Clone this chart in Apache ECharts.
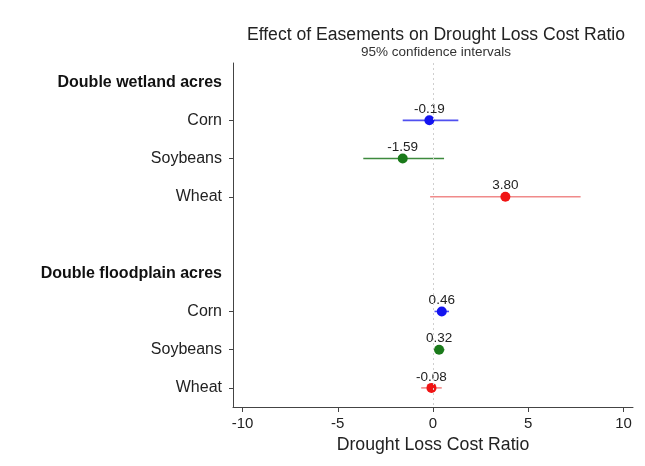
<!DOCTYPE html>
<html><head><meta charset="utf-8">
<script src="https://cdn.jsdelivr.net/npm/echarts@6/dist/echarts.min.js"></script>
<style>html,body{margin:0;padding:0;background:#fff}#c{width:645px;height:466px}</style>
</head><body><div id="c"></div>
<script>
const categories = ["Double wetland acres","Corn","Soybeans","Wheat","","Double floodplain acres","Corn","Soybeans","Wheat"];
const headerRows = [0, 5];
const rowIndex = [1, 2, 3, 6, 7, 8];
const estimates = [-0.19, -1.59, 3.80, 0.46, 0.32, -0.08];
const lower = [-1.59, -3.66, -0.15, 0.08, 0.05, -0.62];
const upper = [1.33, 0.58, 7.75, 0.84, 0.60, 0.46];
const xTicks = [-10, -5, 0, 5, 10];
const pointColors = ["#1414f0","#1a7a1a","#f01414","#1414f0","#1a7a1a","#f01414"];
const ciColors = ["#5050f0","#3d8a3d","#f08a8a","#5050f0","#3d8a3d","#f08a8a"];

const font = "Liberation Sans, Arial, sans-serif";
const chart = echarts.init(document.getElementById('c'));
chart.setOption({
  animation: false,
  backgroundColor: '#fff',
  title: {
    text: 'Effect of Easements on Drought Loss Cost Ratio',
    subtext: '95% confidence intervals',
    left: 431, top: 21, textAlign: 'center', itemGap: 1,
    textStyle: {fontSize: 17.6, fontWeight: 'normal', color: '#222', fontFamily: font},
    subtextStyle: {fontSize: 13.5, color: '#333', fontFamily: font}
  },
  grid: {left: 233, right: 12, top: 63, bottom: 59},
  xAxis: {
    type: 'value', min: -10.5, max: 10.5,
    splitLine: {show: false},
    axisLine: {show: true, onZero: false, lineStyle: {color: '#444', width: 1}},
    axisTick: {show: true, length: 5, customValues: xTicks, lineStyle: {color: '#444'}},
    axisLabel: {customValues: xTicks, fontSize: 15, color: '#222', fontFamily: font, margin: 9},
    name: 'Drought Loss Cost Ratio', nameLocation: 'middle', nameGap: 22,
    nameTextStyle: {fontSize: 17.7, color: '#222', fontFamily: font}
  },
  yAxis: {
    type: 'category', inverse: true, data: categories,
    axisLine: {show: true, onZero: false, lineStyle: {color: '#444', width: 1}},
    axisTick: {show: true, length: 4, alignWithLabel: true,
      interval: (i) => headerRows.indexOf(i) < 0 && categories[i] !== '',
      lineStyle: {color: '#444'}},
    axisLabel: {
      interval: 0, margin: 11, fontSize: 16, color: '#222', fontFamily: font,
      formatter: (v, i) => headerRows.indexOf(i) >= 0 ? '{b|' + v + '}' : v,
      rich: {b: {fontWeight: 'bold', fontSize: 16, color: '#111', fontFamily: font}}
    },
    splitLine: {show: false}
  },
  series: [
    {
      type: 'scatter',
      data: [],
      silent: true,
      markLine: {
        silent: true, symbol: 'none', label: {show: false},
        lineStyle: {type: [2, 3], color: '#cfcfcf', width: 1, opacity: 1},
        emphasis: {disabled: true},
        data: [{xAxis: 0}]
      },
      z: 1
    },
    {
      type: 'custom',
      data: rowIndex.map((r, i) => [lower[i], upper[i], r, i]),
      encode: {x: [0, 1], y: 2},
      renderItem: (params, api) => {
        const a = api.coord([api.value(0), api.value(2)]);
        const b = api.coord([api.value(1), api.value(2)]);
        const k = api.value(3);
        return {type: 'line', shape: {x1: a[0], y1: a[1], x2: b[0], y2: b[1]},
          style: {stroke: ciColors[k], lineWidth: 1.6}};
      },
      z: 2
    },
    {
      type: 'scatter',
      symbolSize: 10,
      itemStyle: {opacity: 1},
      data: rowIndex.map((r, i) => ({value: [estimates[i], r], itemStyle: {color: pointColors[i], opacity: 1}})),
      label: {show: true, position: 'top', distance: -1, fontSize: 13.5, color: '#222', fontFamily: font,
        formatter: (p) => p.value[0].toFixed(2)},
      z: 3
    }
  ]
});
</script></body></html>
